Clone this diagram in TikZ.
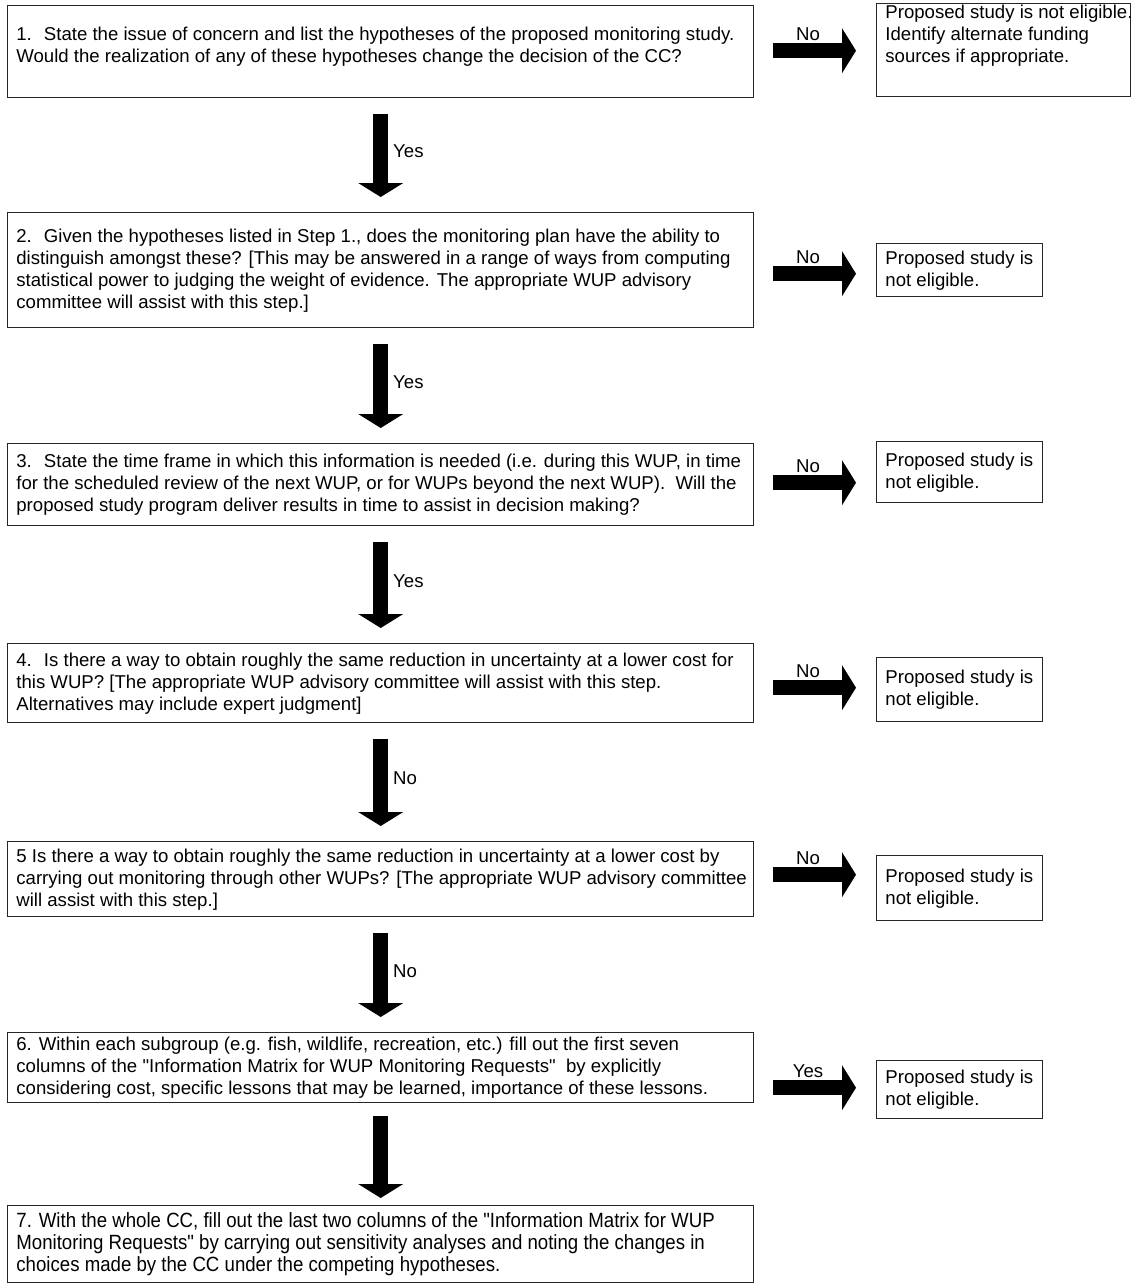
\documentclass[tikz,border=0pt]{standalone}
\usepackage{fontspec}
\setmainfont{Liberation Sans}
\newfontfamily\basefont{Liberation Sans}
\newfontfamily\narrowfont[FakeStretch=0.905]{Liberation Sans}
\usetikzlibrary{arrows.meta}
\begin{document}
\begin{tikzpicture}[x=0.5pt,y=-0.5pt,
  box/.style={draw=black!85, line width=0.7pt, anchor=north west, inner sep=0pt, minimum width=#1},
  box/.default=373pt,
  txt/.style={anchor=west, inner sep=0pt, align=left, font=\basefont\fontsize{9.3pt}{11pt}\selectfont, xshift=4.5pt},
  lbl/.style={inner sep=0pt, font=\basefont\fontsize{9.3pt}{10pt}\selectfont},
  blockarrow/.style={line width=7.5pt, -{Triangle[width=22.5pt,length=7pt,line width=0pt]}},
]
\useasboundingbox[fill=white] (0,0) rectangle (1136,1284);

% main boxes
\node[box, minimum height=46pt] (b1) at (7,5) {};
\node[box, minimum height=57.5pt] (b2) at (7,212) {};
\node[box, minimum height=41pt] (b3) at (7,443) {};
\node[box, minimum height=39.5pt] (b4) at (7,643) {};
\node[box, minimum height=37.5pt] (b5) at (7,841) {};
\node[box, minimum height=35pt] (b6) at (7,1032) {};
\node[box, minimum height=38.5pt] (b7) at (7,1205) {};

% right boxes
\node[box=127pt, minimum height=46.5pt] (r1) at (876,3) {};
\node[box=83pt, minimum height=26.5pt] (r2) at (876,243) {};
\node[box=83pt, minimum height=30.5pt] (r3) at (876,441) {};
\node[box=83pt, minimum height=32pt] (r4) at (876,657) {};
\node[box=83pt, minimum height=32.5pt] (r5) at (876,855) {};
\node[box=83pt, minimum height=29pt] (r6) at (876,1060) {};

% texts
\node[txt, yshift=2.75pt] (t1) at (b1.west) {1.~ State the issue of concern and list the hypotheses of the proposed monitoring study.\\Would the realization of any of these hypotheses change the decision of the CC?};
\node[txt] (t2) at (b2.west) {2.~ Given the hypotheses listed in Step 1., does the monitoring plan have the ability to\\distinguish amongst these? [This may be answered in a range of ways from computing\\statistical power to judging the weight of evidence. The appropriate WUP advisory\\committee will assist with this step.]};
\node[txt] (t3) at (b3.west) {3.~ State the time frame in which this information is needed (i.e. during this WUP, in time\\for the scheduled review of the next WUP, or for WUPs beyond the next WUP).~ Will the\\proposed study program deliver results in time to assist in decision making?};
\node[txt] (t4) at (b4.west) {4.~ Is there a way to obtain roughly the same reduction in uncertainty at a lower cost for\\this WUP? [The appropriate WUP advisory committee will assist with this step.\\Alternatives may include expert judgment]};
\node[txt] (t5) at (b5.west) {5 Is there a way to obtain roughly the same reduction in uncertainty at a lower cost by\\carrying out monitoring through other WUPs? [The appropriate WUP advisory committee\\will assist with this step.]};
\node[txt] (t6) at (b6.west) {6. Within each subgroup (e.g. fish, wildlife, recreation, etc.) fill out the first seven\\columns of the "Information Matrix for WUP Monitoring Requests"~ by explicitly\\considering cost, specific lessons that may be learned, importance of these lessons.};
\node[txt, font=\narrowfont\fontsize{10.3pt}{11pt}\selectfont] (t7) at (b7.west) {7. With the whole CC, fill out the last two columns of the "Information Matrix for WUP\\Monitoring Requests" by carrying out sensitivity analyses and noting the changes in\\choices made by the CC under the competing hypotheses.};

\node[txt, yshift=7.25pt] (s1) at (r1.west) {Proposed study is not eligible.\\Identify alternate funding\\sources if appropriate.};
\node[txt] (s2) at (r2.west) {Proposed study is\\not eligible.};
\node[txt] (s3) at (r3.west) {Proposed study is\\not eligible.};
\node[txt] (s4) at (r4.west) {Proposed study is\\not eligible.};
\node[txt] (s5) at (r5.west) {Proposed study is\\not eligible.};
\node[txt] (s6) at (r6.west) {Proposed study is\\not eligible.};

% horizontal arrows
\draw[blockarrow] ([xshift=9.5pt,yshift=0.5pt]b1.east) -- ([xshift=-10pt,yshift=0.5pt]b1.east -| r1.west) node[lbl, pos=.42, above=1.5pt] (n1) {No};
\draw[blockarrow] ([xshift=9.5pt,yshift=-1.75pt]b2.east) -- ([xshift=-10pt,yshift=-1.75pt]b2.east -| r2.west) node[lbl, pos=.42, above=1.5pt] (n2) {No};
\draw[blockarrow] ([xshift=9.5pt,yshift=1pt]b3.east) -- ([xshift=-10pt,yshift=1pt]b3.east -| r3.west) node[lbl, pos=.42, above=1.5pt] (n3) {No};
\draw[blockarrow] ([xshift=9.5pt,yshift=-2.25pt]b4.east) -- ([xshift=-10pt,yshift=-2.25pt]b4.east -| r4.west) node[lbl, pos=.42, above=1.5pt] (n4) {No};
\draw[blockarrow] ([xshift=9.5pt,yshift=2.25pt]b5.east) -- ([xshift=-10pt,yshift=2.25pt]b5.east -| r5.west) node[lbl, pos=.42, above=1.5pt] (n5) {No};
\draw[blockarrow] ([xshift=9.5pt,yshift=-10pt]b6.east) -- ([xshift=-10pt,yshift=-10pt]b6.east -| r6.west) node[lbl, pos=.42, above=1.5pt] (n6) {Yes};

% vertical arrows
\draw[blockarrow] ([yshift=-8pt]b1.south) -- ([yshift=7.5pt]b2.north) node[lbl, pos=.45, right=2.5pt] (y1) {Yes};
\draw[blockarrow] ([yshift=-8pt]b2.south) -- ([yshift=7.5pt]b3.north) node[lbl, pos=.45, right=2.5pt] (y2) {Yes};
\draw[blockarrow] ([yshift=-8pt]b3.south) -- ([yshift=7.5pt]b4.north) node[lbl, pos=.45, right=2.5pt] (y3) {Yes};
\draw[blockarrow] ([yshift=-8pt]b4.south) -- ([yshift=7.5pt]b5.north) node[lbl, pos=.45, right=2.5pt] (y4) {No};
\draw[blockarrow] ([yshift=-8pt]b5.south) -- ([yshift=7.5pt]b6.north) node[lbl, pos=.45, right=2.5pt] (y5) {No};
\draw[blockarrow] ([yshift=-6.5pt]b6.south) -- ([yshift=3.5pt]b7.north);
\end{tikzpicture}
\end{document}
